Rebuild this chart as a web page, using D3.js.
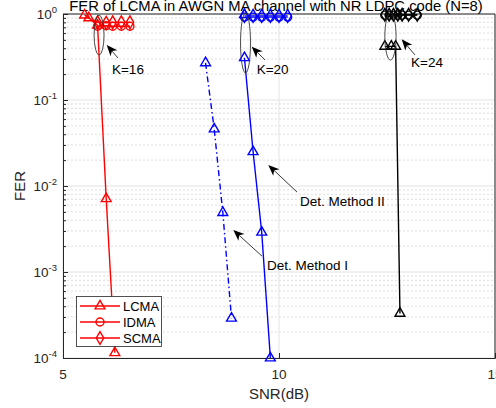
<!DOCTYPE html>
<html><head><meta charset="utf-8">
<script src="https://cdn.jsdelivr.net/npm/d3@7"></script>
<style>body{margin:0;background:#fff}svg{display:block}text{font-family:"Liberation Sans",Arial,sans-serif}</style>
</head><body><svg id="c" width="496" height="408"></svg>
<script>
// ---- data ----
const titleText = "FER of LCMA in AWGN MA channel with NR LDPC code (N=8)";
const xTicks = [5, 10, 15];
const yTickExps = [0, -1, -2, -3, -4];

const snrLcma16 = [5.5, 5.6, 5.8, 6.0, 6.2];
const ferLcma16 = [0.97, 0.9, 0.74, 0.0071, 1.15e-4];
const snrIdma16 = [5.8, 6.0, 6.15, 6.35, 6.55];
const ferIdma16 = [0.72, 0.73, 0.72, 0.72, 0.72];
const ferScma16 = [0.8, 0.79, 0.8, 0.8, 0.8];

const snrLcma20I = [8.3, 8.5, 8.7, 8.9];
const ferLcma20I = [0.27, 0.046, 0.0049, 2.9e-4];
const snrLcma20II = [9.2, 9.4, 9.6, 9.8];
const ferLcma20II = [0.31, 0.025, 0.0029, 1.0e-4];
const snrLcma20Top = [9.2];
const ferLcma20Top = [0.98];
const snrIdma20 = [9.2, 9.4, 9.6, 9.8, 10.0, 10.2];
const ferIdma20 = [0.92, 0.92, 0.92, 0.92, 0.92, 0.92];
const ferScma20 = [0.95, 0.95, 0.95, 0.95, 0.95, 0.95];

const snrLcma24 = [12.45, 12.6, 12.7, 12.8];
const ferLcma24 = [0.42, 0.42, 0.42, 3.3e-4];
const snrIdma24 = [12.45, 12.55, 12.65, 12.75, 12.85, 13.0, 13.2];
const ferIdma24 = [0.97, 0.97, 0.97, 0.97, 0.97, 0.97, 0.97];
const ferScma24 = [0.98, 0.98, 0.98, 0.98, 0.98, 0.98, 0.98];

const legendLabels = ["LCMA", "IDMA", "SCMA"];

// annotations (data units)
const ellipses = [
  {x0: 5.72, x1: 5.95, y0: 0.973, y1: 0.333},
  {x0: 9.11, x1: 9.34, y0: 1.03, y1: 0.206},
  {x0: 12.45, x1: 12.71, y0: 1.03, y1: 0.291}
];
const arrows = [
  {x0: 6.273, y0: 0.308, x1: 6.012, y1: 0.436},
  {x0: 9.676, y0: 0.292, x1: 9.368, y1: 0.417},
  {x0: 13.148, y0: 0.334, x1: 12.84, y1: 0.508},
  {x0: 10.417, y0: 0.0085, x1: 9.752, y1: 0.01755},
  {x0: 9.606, y0: 0.00153, x1: 8.942, y1: 0.00308}
];
const labels = [
  {x: 6.134, y: 0.203, t: "K=16"},
  {x: 9.484, y: 0.203, t: "K=20"},
  {x: 13.056, y: 0.242, t: "K=24"},
  {x: 10.486, y: 0.00585, t: "Det. Method II"},
  {x: 9.722, y: 0.00105, t: "Det. Method I"}
];

// ---- drawing ----
const svg = d3.select("#c");
const L = 63, R = 495, T = 14, B = 358;
const x = d3.scaleLinear().domain([5, 15]).range([L, R]);
const y = d3.scaleLog().domain([1e-4, 1]).range([B, T]);
const axisCol = "#262626";

// grid
const g = svg.append("g");
const minorVals = [];
for (let e = -4; e < 0; e++) for (let m = 2; m <= 9; m++) minorVals.push(m * Math.pow(10, e));
g.selectAll(".ym").data(minorVals).join("line")
  .attr("x1", L).attr("x2", R).attr("y1", d => y(d)).attr("y2", d => y(d))
  .attr("stroke", "#d4d4d4").attr("stroke-width", 0.8).attr("stroke-dasharray", "2,2");
g.selectAll(".yM").data(yTickExps.map(e => Math.pow(10, e))).join("line")
  .attr("x1", L).attr("x2", R).attr("y1", d => y(d)).attr("y2", d => y(d))
  .attr("stroke", "#e3e3e3").attr("stroke-width", 1);
g.selectAll(".xM").data(xTicks).join("line")
  .attr("x1", d => x(d)).attr("x2", d => x(d)).attr("y1", T).attr("y2", B)
  .attr("stroke", "#e3e3e3").attr("stroke-width", 1);

// axes
const yAxis = d3.axisLeft(y).tickValues(yTickExps.map(e => Math.pow(10, e))).tickSize(-5).tickFormat("");
const yAxisMinor = d3.axisLeft(y).tickValues(minorVals).tickSize(-3).tickFormat("");
const xAxis = d3.axisBottom(x).tickValues(xTicks).tickSize(-5).tickFormat("");
[yAxis, yAxisMinor].forEach(a => {
  const ga = svg.append("g").attr("transform", `translate(${L},0)`).call(a);
  ga.selectAll("path,line").attr("stroke", axisCol);
  ga.select("path").attr("stroke-width", 1);
});
const gx = svg.append("g").attr("transform", `translate(0,${B})`).call(xAxis);
gx.selectAll("path,line").attr("stroke", axisCol);
svg.append("line").attr("x1", L).attr("x2", R).attr("y1", T).attr("y2", T).attr("stroke", axisCol);
svg.append("line").attr("x1", R).attr("x2", R).attr("y1", T).attr("y2", B).attr("stroke", axisCol);

// tick labels
const yl = svg.append("g");
yTickExps.forEach(e => {
  const t = yl.append("text").attr("x", L - 6).attr("y", y(Math.pow(10, e)) + 5)
    .attr("text-anchor", "end").attr("font-size", 13.5).attr("fill", axisCol);
  t.append("tspan").text("10");
  t.append("tspan").attr("dy", -6).attr("font-size", 9.5).text(String(e));
});
xTicks.forEach(v => {
  svg.append("text").attr("x", x(v)).attr("y", 379).attr("text-anchor", "middle")
    .attr("font-size", 13.5).attr("fill", axisCol).text(v);
});
svg.append("text").attr("x", x(10)).attr("y", 399).attr("text-anchor", "middle")
  .attr("font-size", 15).attr("fill", axisCol).text("SNR(dB)");
svg.append("text").attr("transform", `translate(25,${(T + B) / 2}) rotate(-90)`)
  .attr("text-anchor", "middle").attr("font-size", 15).attr("fill", axisCol).text("FER");
svg.append("text").attr("x", 276).attr("y", 11).attr("text-anchor", "middle")
  .attr("font-size", 14.8).attr("fill", "#000").text(titleText);

// series
const line = d3.line().x(d => x(d[0])).y(d => y(d[1]));
const sym = {
  tri: d3.symbol(d3.symbolTriangle, 42),
  circ: d3.symbol(d3.symbolCircle, 50),
  dia: d3.symbol(d3.symbolDiamond, 48)
};
function series(xs, ys, color, marker, dash, drawLine = true) {
  const pts = xs.map((v, i) => [v, ys[i]]);
  if (drawLine) svg.append("path").datum(pts).attr("d", line).attr("fill", "none")
    .attr("stroke", color).attr("stroke-width", 1.4).attr("stroke-dasharray", dash || null);
  svg.append("g").selectAll("path").data(pts).join("path")
    .attr("transform", d => `translate(${x(d[0])},${y(d[1])})`)
    .attr("d", sym[marker]).attr("fill", "none").attr("stroke", color).attr("stroke-width", 1.4);
}
series(snrIdma16, ferIdma16, "#ff0000", "circ");
series(snrIdma16, ferScma16, "#ff0000", "dia");
series(snrLcma16, ferLcma16, "#ff0000", "tri");
series(snrIdma20, ferIdma20, "#0000ff", "circ");
series(snrIdma20, ferScma20, "#0000ff", "dia");
series(snrLcma20I, ferLcma20I, "#0000ff", "tri", "6,3,1.5,3");
series(snrLcma20II, ferLcma20II, "#0000ff", "tri");
series(snrLcma20Top, ferLcma20Top, "#0000ff", "tri", null, false);
series(snrIdma24, ferIdma24, "#000000", "circ");
series(snrIdma24, ferScma24, "#000000", "dia");
series(snrLcma24, ferLcma24, "#000000", "tri");

// annotations
ellipses.forEach(e => {
  const cx = (x(e.x0) + x(e.x1)) / 2, cy = (y(e.y0) + y(e.y1)) / 2;
  svg.append("ellipse").attr("cx", cx).attr("cy", cy)
    .attr("rx", Math.abs(x(e.x1) - x(e.x0)) / 2).attr("ry", Math.abs(y(e.y1) - y(e.y0)) / 2)
    .attr("fill", "none").attr("stroke", "#333").attr("stroke-width", 0.9);
});
arrows.forEach(a => {
  const X0 = x(a.x0), Y0 = y(a.y0), X1 = x(a.x1), Y1 = y(a.y1);
  const ang = Math.atan2(Y1 - Y0, X1 - X0);
  const hl = 11, hw = 4.5;
  const bx = X1 - hl * Math.cos(ang), by = Y1 - hl * Math.sin(ang);
  svg.append("line").attr("x1", X0).attr("y1", Y0).attr("x2", bx + 3 * Math.cos(ang)).attr("y2", by + 3 * Math.sin(ang))
    .attr("stroke", "#222").attr("stroke-width", 0.9);
  const p1 = [bx + hw * Math.sin(ang), by - hw * Math.cos(ang)];
  const p2 = [bx - hw * Math.sin(ang), by + hw * Math.cos(ang)];
  const mid = [X1 - (hl - 3) * Math.cos(ang), Y1 - (hl - 3) * Math.sin(ang)];
  svg.append("path").attr("d", `M${X1},${Y1}L${p1[0]},${p1[1]}L${mid[0]},${mid[1]}L${p2[0]},${p2[1]}Z`)
    .attr("fill", "#000");
});
labels.forEach(l => {
  svg.append("text").attr("x", x(l.x)).attr("y", y(l.y)).attr("font-size", 13.5)
    .attr("fill", "#000").text(l.t);
});

// legend
const lg = svg.append("g");
lg.append("rect").attr("x", 76.5).attr("y", 296.5).attr("width", 85).attr("height", 50)
  .attr("fill", "#fff").attr("stroke", axisCol).attr("stroke-width", 0.8);
const legMarks = ["tri", "circ", "dia"];
legendLabels.forEach((t, i) => {
  const yy = 306 + i * 16;
  lg.append("line").attr("x1", 80).attr("x2", 120).attr("y1", yy).attr("y2", yy)
    .attr("stroke", "#ff0000").attr("stroke-width", 1.4);
  lg.append("path").attr("transform", `translate(100,${yy})`).attr("d", sym[legMarks[i]])
    .attr("fill", "none").attr("stroke", "#ff0000").attr("stroke-width", 1.4);
  lg.append("text").attr("x", 123).attr("y", yy + 4.5).attr("font-size", 13).attr("fill", "#000").text(t);
});
</script></body></html>
